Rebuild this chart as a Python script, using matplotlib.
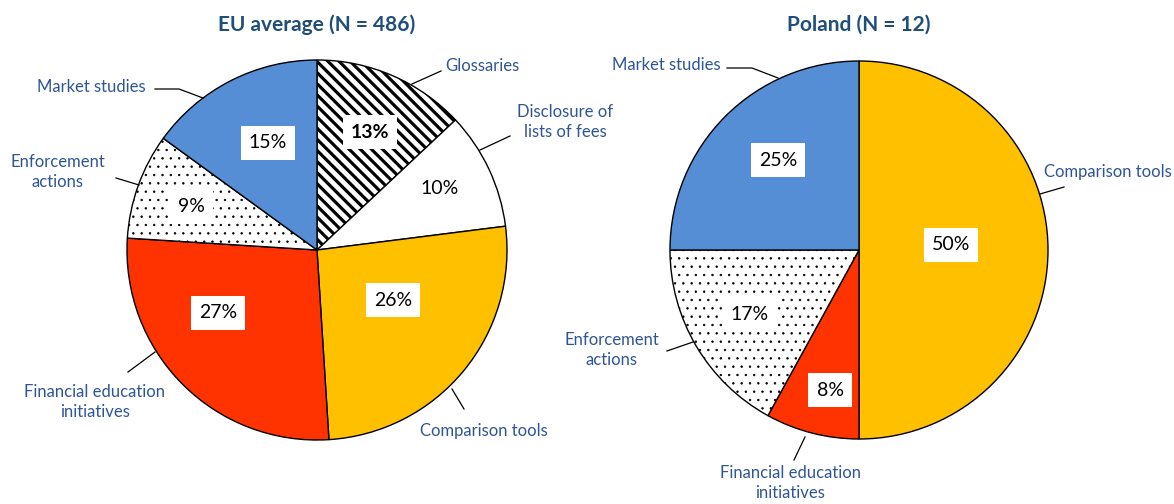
import matplotlib.pyplot as plt

plt.rcParams['font.family'] = ['Lato', 'DejaVu Sans']

# data
eu_labels = ["Glossaries", "Disclosure of\nlists of fees", "Comparison tools",
             "Financial education\ninitiatives", "Enforcement\nactions", "Market studies"]
eu_values = [13, 10, 26, 27, 9, 15]
eu_title = "EU average (N = 486)"

pl_labels = ["Comparison tools", "Financial education\ninitiatives",
             "Enforcement\nactions", "Market studies"]
pl_values = [50, 8, 17, 25]
pl_title = "Poland (N = 12)"

# styles per category
styles = {
    "Glossaries": dict(facecolor="white", hatch="\\\\\\", hatch_lw=2.3),
    "Disclosure of\nlists of fees": dict(facecolor="white", hatch=None, hatch_lw=1),
    "Comparison tools": dict(facecolor="#FFC000", hatch=None, hatch_lw=1),
    "Financial education\ninitiatives": dict(facecolor="#FF3300", hatch=None, hatch_lw=1),
    "Enforcement\nactions": dict(facecolor="white", hatch="..", hatch_lw=0.5),
    "Market studies": dict(facecolor="#558ED5", hatch=None, hatch_lw=1),
}

W, H = 1174, 504
LABEL_COLOR = "#2F5597"
TITLE_COLOR = "#1F4E79"

# layout in pixel coords (y from top): pie centre, radius, percentage text spots,
# category text spots and leader lines
eu_layout = dict(
    center=(317, 250), radius=190,
    pct_pos=[(370, 132), (440, 188), (393, 300), (218, 313), (191, 207), (268, 143)],
    text_pos=[(445, 66, "left"), (565, 122, "center"), (484, 431, "center"),
              (95, 402, "center"), (58, 172, "center"), (91, 87, "center")],
    leaders=[[(412, 84), (441, 71)], [(480, 150), (510, 136)], [(452, 389), (464, 409)],
             [(155, 352), (128, 372)], [(139, 185), (116, 178)],
             [(203, 98), (179, 89), (155, 89)]],
)
pl_layout = dict(
    center=(859, 250), radius=189,
    pct_pos=[(951, 245), (830, 390), (750, 314), (778, 160)],
    text_pos=[(1044, 172, "left"), (790, 483, "center"),
              (612, 350, "center"), (666, 65, "center")],
    leaders=[[(1040, 194), (1064, 187)], [(805, 437), (794, 460)],
             [(693, 342), (667, 351)], [(778, 78), (752, 68), (727, 68)]],
)


def draw_pie(ax, labels, values, title, layout):
    cx, cy = layout["center"]
    r = layout["radius"]
    wedges, _ = ax.pie(values, center=(cx, H - cy), radius=r, startangle=90,
                       counterclock=False,
                       colors=[styles[l]["facecolor"] for l in labels],
                       wedgeprops=dict(edgecolor="black", linewidth=1.0))
    for w, l in zip(wedges, labels):
        if styles[l]["hatch"]:
            w.set_hatch(styles[l]["hatch"])
            if hasattr(w, "set_hatch_linewidth"):
                w.set_hatch_linewidth(styles[l]["hatch_lw"])

    total = sum(values)
    for l, v, (px, py), (tx, ty, ha), pts in zip(
            labels, values, layout["pct_pos"], layout["text_pos"], layout["leaders"]):
        weight = "bold" if l == "Glossaries" else "normal"
        ax.text(px, H - py, "%d%%" % round(100 * v / total), ha="center", va="center",
                fontsize=14, fontweight=weight, color="black",
                bbox=dict(facecolor="white", edgecolor="none", boxstyle="square,pad=0.42"))

        # leader line towards the category label
        ax.plot([p[0] for p in pts], [H - p[1] for p in pts], color="black", lw=0.9)
        ax.text(tx, H - ty, l, ha=ha, va="center", fontsize=12,
                color=LABEL_COLOR, linespacing=1.35, multialignment="center")

    ax.text(cx, H - 25, title, ha="center", va="center", fontsize=15,
            fontweight="bold", color=TITLE_COLOR)


fig = plt.figure(figsize=(W / 100, H / 100), dpi=100)
ax = fig.add_axes([0, 0, 1, 1])
draw_pie(ax, eu_labels, eu_values, eu_title, eu_layout)
draw_pie(ax, pl_labels, pl_values, pl_title, pl_layout)
ax.set_xlim(0, W)
ax.set_ylim(0, H)
ax.set_aspect("equal")
ax.axis("off")

fig.savefig("out.png", dpi=100)
